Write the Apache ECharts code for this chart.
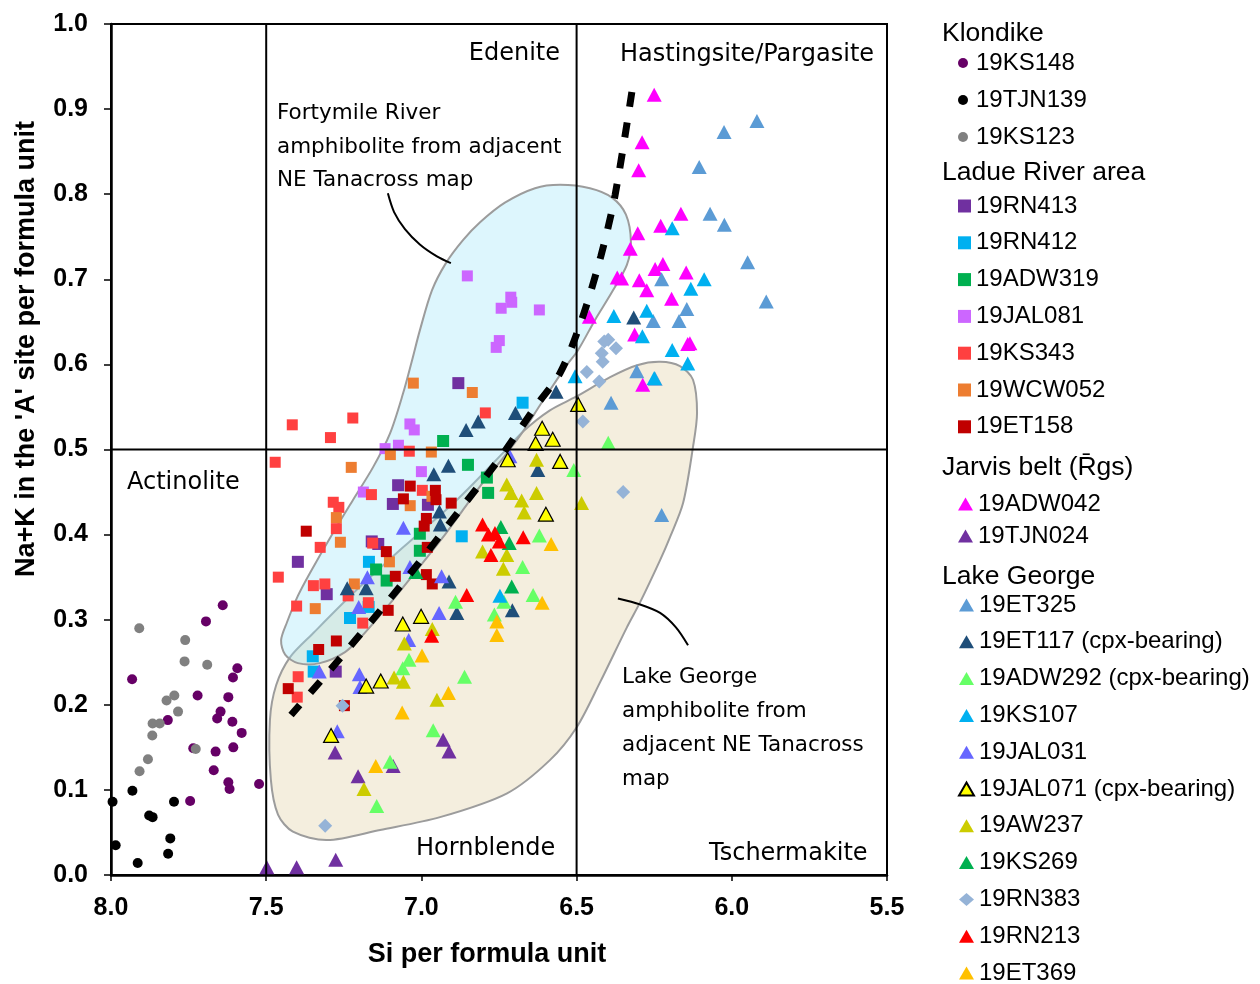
<!DOCTYPE html>
<html>
<head>
<meta charset="utf-8">
<script src="https://cdn.jsdelivr.net/npm/echarts@6/dist/echarts.min.js"></script>
<style>
  html, body { margin: 0; padding: 0; background: #fff; }
  #chart { width: 1260px; height: 984px; }
</style>
</head>
<body>
<div id="chart"></div>
<script>
// ---- Axis ticks ----
const X_TICKS = [8.0, 7.5, 7.0, 6.5, 6.0, 5.5];
const Y_TICKS = [0.0, 0.1, 0.2, 0.3, 0.4, 0.5, 0.6, 0.7, 0.8, 0.9, 1.0];

// ---- Klondike (Si apfu, Na+K in A site) ----
const KS148 = [[7.640,0.317],[7.694,0.298],[7.932,0.230],[7.593,0.243],[7.607,0.232],[7.721,0.211],[7.622,0.209],[7.647,0.192],[7.658,0.184],[7.817,0.182],[7.609,0.180],[7.579,0.167],[7.735,0.149],[7.663,0.145],[7.606,0.150],[7.669,0.123],[7.622,0.109],[7.618,0.101],[7.523,0.107],[7.745,0.087]];
const TJN139 = [[7.995,0.086],[7.931,0.099],[7.797,0.086],[7.877,0.070],[7.866,0.068],[7.985,0.035],[7.809,0.043],[7.816,0.025],[7.914,0.014]];
const KS123 = [[7.909,0.290],[7.761,0.276],[7.763,0.251],[7.690,0.247],[7.796,0.211],[7.821,0.205],[7.784,0.192],[7.866,0.178],[7.843,0.178],[7.867,0.164],[7.727,0.148],[7.881,0.136],[7.908,0.122]];

// ---- Ladue River area ----
const RN413 = [[6.881,0.578],[7.075,0.458],[7.092,0.436],[6.979,0.435],[7.160,0.392],[7.139,0.389],[7.398,0.368],[7.305,0.330],[7.276,0.239]];
const RN412 = [[6.674,0.555],[6.870,0.398],[7.169,0.368],[7.170,0.315],[7.230,0.302],[7.350,0.257],[7.347,0.239]];
const ADW319 = [[6.930,0.510],[6.850,0.482],[6.789,0.467],[6.785,0.449],[7.005,0.401],[7.005,0.381],[7.146,0.359],[7.112,0.346]];
const JAL081 = [[6.852,0.704],[6.712,0.679],[6.709,0.673],[6.743,0.666],[6.620,0.664],[6.749,0.628],[6.759,0.620],[7.037,0.530],[7.023,0.523],[7.117,0.501],[7.074,0.505],[7.000,0.474],[7.187,0.450]];
const KS343 = [[7.416,0.529],[7.221,0.537],[7.293,0.514],[6.794,0.543],[7.039,0.498],[7.471,0.485],[6.997,0.452],[7.161,0.447],[7.284,0.438],[7.266,0.432],[7.274,0.407],[7.157,0.390],[7.326,0.385],[7.461,0.350],[7.348,0.340],[7.311,0.342],[7.236,0.328],[7.402,0.316],[7.171,0.320],[7.189,0.296],[7.397,0.233],[7.400,0.209]];
const WCW052 = [[7.026,0.578],[6.836,0.567],[7.100,0.494],[6.968,0.497],[7.226,0.479],[6.966,0.445],[7.036,0.434],[7.274,0.420],[7.261,0.391],[7.103,0.368],[7.216,0.342],[7.342,0.313]];
const ET158 = [[7.036,0.457],[6.955,0.452],[6.953,0.441],[7.058,0.442],[6.904,0.437],[7.371,0.404],[6.984,0.419],[6.991,0.410],[7.113,0.380],[6.981,0.385],[7.084,0.351],[6.984,0.353],[6.965,0.342],[7.107,0.311],[7.274,0.275],[7.331,0.265],[7.429,0.219],[7.248,0.199]];

// ---- Jarvis belt ----
const ADW042 = [[6.250,0.917],[6.289,0.861],[6.300,0.828],[6.164,0.777],[6.229,0.763],[6.303,0.754],[6.327,0.736],[6.369,0.702],[6.355,0.701],[6.247,0.712],[6.222,0.718],[6.298,0.699],[6.274,0.687],[6.147,0.708],[6.194,0.677],[6.459,0.656],[6.313,0.635],[6.142,0.624],[6.135,0.625],[6.287,0.576]];
const TJN024 = [[7.498,0.009],[7.402,0.009],[7.276,0.018],[7.278,0.144],[7.204,0.116],[7.091,0.128],[6.930,0.159],[6.911,0.145]];

// ---- Lake George ----
const ET325 = [[5.919,0.886],[6.025,0.873],[6.105,0.832],[6.070,0.777],[6.024,0.764],[5.949,0.720],[5.889,0.674],[6.226,0.700],[6.145,0.665],[6.253,0.651],[6.170,0.651],[6.306,0.592],[6.247,0.583],[6.389,0.555],[6.226,0.423]];
const ET117 = [[6.316,0.655],[6.566,0.568],[6.697,0.543],[6.817,0.533],[6.856,0.523],[6.913,0.481],[6.960,0.471],[6.625,0.476],[6.942,0.427],[6.939,0.412],[7.239,0.337],[7.178,0.337],[6.911,0.345],[6.886,0.308],[6.707,0.311]];
const ADW292 = [[6.398,0.508],[6.509,0.476],[6.620,0.399],[6.674,0.362],[6.640,0.329],[6.890,0.321],[6.765,0.306],[6.734,0.321],[6.861,0.233],[7.040,0.253],[7.060,0.243],[6.962,0.170],[7.101,0.133],[7.144,0.081]];
const KS107 = [[6.192,0.760],[6.132,0.689],[6.089,0.700],[6.380,0.657],[6.274,0.663],[6.288,0.633],[6.192,0.617],[6.142,0.601],[6.505,0.586],[6.250,0.584],[6.747,0.328]];
const JAL031 = [[6.715,0.492],[7.058,0.408],[7.037,0.362],[6.935,0.351],[7.174,0.350],[7.202,0.315],[6.943,0.308],[7.041,0.276],[7.329,0.239],[7.200,0.236],[7.198,0.221],[7.271,0.169]];
const JAL071 = [[6.495,0.553],[6.611,0.525],[6.577,0.512],[6.632,0.507],[6.722,0.488],[6.553,0.486],[6.599,0.424],[7.060,0.295],[7.001,0.304],[7.131,0.228],[7.178,0.222],[7.291,0.164]];
const AW237 = [[6.629,0.488],[6.725,0.459],[6.711,0.449],[6.677,0.440],[6.629,0.449],[6.669,0.426],[6.484,0.437],[6.803,0.380],[6.725,0.376],[6.736,0.360],[6.965,0.289],[7.055,0.272],[7.088,0.232],[7.058,0.227],[6.950,0.206],[7.185,0.101]];
const KS269 = [[6.744,0.409],[6.717,0.390],[6.709,0.339],[7.018,0.356]];
const RN383 = [[6.398,0.629],[6.411,0.627],[6.373,0.619],[6.419,0.613],[6.416,0.603],[6.467,0.591],[6.427,0.580],[6.480,0.533],[6.350,0.450],[7.254,0.199],[7.310,0.058]];
const RN213 = [[6.803,0.412],[6.784,0.400],[6.763,0.402],[6.749,0.392],[6.672,0.397],[6.776,0.376],[6.854,0.329],[6.967,0.281]];
const ET369 = [[6.582,0.389],[6.611,0.320],[6.757,0.298],[6.757,0.282],[6.913,0.214],[6.998,0.258],[7.062,0.191],[7.147,0.128]];

// ---- Field outlines (Si, Na+K) ----
const FORTYMILE_FIELD = [[6.866,0.746],[6.811,0.767],[6.731,0.790],[6.634,0.807],[6.553,0.811],[6.457,0.807],[6.386,0.796],[6.341,0.776],[6.325,0.744],[6.338,0.717],[6.386,0.685],[6.441,0.652],[6.495,0.617],[6.534,0.598],[6.618,0.552],[6.673,0.521],[6.737,0.490],[6.802,0.461],[6.866,0.429],[6.924,0.400],[7.059,0.338],[7.124,0.309],[7.191,0.281],[7.246,0.262],[7.327,0.249],[7.398,0.249],[7.439,0.259],[7.452,0.276],[7.433,0.297],[7.398,0.328],[7.359,0.355],[7.285,0.402],[7.220,0.441],[7.156,0.479],[7.101,0.519],[7.059,0.566],[7.030,0.605],[7.005,0.640],[6.966,0.687],[6.921,0.719]];
const LAKE_GEORGE_FIELD = [[6.502,0.562],[6.392,0.585],[6.305,0.599],[6.231,0.603],[6.167,0.598],[6.125,0.582],[6.112,0.543],[6.125,0.503],[6.157,0.437],[6.199,0.397],[6.231,0.370],[6.296,0.320],[6.338,0.291],[6.425,0.226],[6.499,0.174],[6.586,0.135],[6.724,0.096],[6.940,0.068],[7.133,0.053],[7.304,0.041],[7.414,0.051],[7.462,0.071],[7.485,0.112],[7.488,0.182],[7.468,0.223],[7.423,0.256],[7.349,0.284],[7.220,0.331],[7.059,0.385],[6.885,0.441],[6.737,0.496],[6.673,0.521],[6.586,0.546]];

// ---- Edenite / pargasite boundary (dashed) and label leaders ----
const BOUNDARY = [[6.322,0.920],[6.376,0.799],[6.422,0.727],[6.484,0.652],[6.553,0.590],[6.629,0.552],[6.747,0.490],[6.876,0.429],[7.069,0.339],[7.268,0.252],[7.420,0.188]];
const FORTYMILE_LEADER = [[7.108,0.801],[7.088,0.779],[7.053,0.759],[7.005,0.741],[6.950,0.727],[6.905,0.719]];
const LAKE_GEORGE_LEADER = [[6.367,0.325],[6.296,0.318],[6.231,0.308],[6.180,0.291],[6.141,0.270]];

// ---- Legend groups ----
const GROUP_KLONDIKE = ['19KS148', '19TJN139', '19KS123'];
const GROUP_LADUE = ['19RN413', '19RN412', '19ADW319', '19JAL081', '19KS343', '19WCW052', '19ET158'];
const GROUP_JARVIS = ['19ADW042', '19TJN024'];
const GROUP_LAKE = ['19ET325', '19ET117 (cpx-bearing)', '19ADW292 (cpx-bearing)', '19KS107', '19JAL031', '19JAL071 (cpx-bearing)', '19AW237', '19KS269', '19RN383', '19RN213', '19ET369'];

const TRI = [15, 14];
function pts(name, data, symbol, size, color, border) {
  return {
    name: name, type: 'scatter', data: data, symbol: symbol, symbolSize: size,
    itemStyle: border ? { color: color, borderColor: border, borderWidth: 1.2, opacity: 1 } : { color: color, opacity: 1 },
    emphasis: { disabled: true }
  };
}
function field(points, fill) {
  return {
    type: 'custom', silent: true, data: [[7, 0.5]],
    renderItem: function (params, api) {
      const p = points.map(function (d) { return api.coord(d); });
      return { type: 'polygon', shape: { points: p, smooth: 0.3 },
               style: { fill: fill, stroke: '#9c9c9c', lineWidth: 2 } };
    }
  };
}
function rule(data, width, type) {
  return { type: 'line', silent: true, data: data, symbol: 'none', smooth: 0.3,
           lineStyle: { color: '#000', width: width, type: type || 'solid', cap: 'butt' } };
}

const series = [
  field(LAKE_GEORGE_FIELD, 'rgba(224,206,161,0.35)'),
  field(FORTYMILE_FIELD, 'rgba(158,229,249,0.35)'),
  rule([[7.5, 0], [7.5, 1]], 2),
  rule([[6.5, 0], [6.5, 1]], 2),
  rule([[8.0, 0.5], [5.5, 0.5]], 2),
  pts('19KS148', KS148, 'circle', 10, '#660066'),
  pts('19TJN139', TJN139, 'circle', 10, '#000000'),
  pts('19KS123', KS123, 'circle', 10, '#808080'),
  pts('19RN413', RN413, 'rect', 12, '#7030A0'),
  pts('19RN412', RN412, 'rect', 12, '#00B0F0'),
  pts('19ADW319', ADW319, 'rect', 12, '#00B050'),
  pts('19JAL081', JAL081, 'rect', 11, '#CC66FF'),
  pts('19KS343', KS343, 'rect', 11, '#FF4040'),
  pts('19WCW052', WCW052, 'rect', 11, '#ED7D31'),
  pts('19ET158', ET158, 'rect', 11, '#C00000'),
  pts('19ADW042', ADW042, 'triangle', TRI, '#FF00FF'),
  pts('19TJN024', TJN024, 'triangle', TRI, '#7030A0'),
  pts('19ET325', ET325, 'triangle', TRI, '#5B9BD5'),
  pts('19ET117 (cpx-bearing)', ET117, 'triangle', TRI, '#1F4E79'),
  pts('19ADW292 (cpx-bearing)', ADW292, 'triangle', TRI, '#66FF66'),
  pts('19KS107', KS107, 'triangle', TRI, '#00B0F0'),
  pts('19JAL031', JAL031, 'triangle', TRI, '#6666FF'),
  pts('19JAL071 (cpx-bearing)', JAL071, 'triangle', TRI, '#FFFF00', '#000000'),
  pts('19AW237', AW237, 'triangle', TRI, '#CCCC00'),
  pts('19KS269', KS269, 'triangle', TRI, '#00B050'),
  pts('19RN383', RN383, 'diamond', 14, '#95B3D7'),
  pts('19RN213', RN213, 'triangle', TRI, '#FF0000'),
  pts('19ET369', ET369, 'triangle', TRI, '#FFC000'),
  rule(BOUNDARY, 7, [15, 16]),
  rule(FORTYMILE_LEADER, 2),
  rule(LAKE_GEORGE_LEADER, 2)
];

const LEG_TEXT = { fontSize: 24, lineHeight: 24, fontFamily: 'Liberation Sans, Arial, sans-serif', color: '#000' };
function legendGroup(names, top, w, h, gap, pad) {
  return {
    data: names, orient: 'vertical', left: 958, top: top, padding: 0,
    width: 300, height: names.length * 40,
    itemWidth: w, itemHeight: h, itemGap: gap, selectedMode: false,
    textStyle: Object.assign({ padding: [0, 0, 0, pad || 0] }, LEG_TEXT)
  };
}

const REGION_FONT = '24px "DejaVu Sans", sans-serif';
const NOTE_FONT = '21.5px "DejaVu Sans", sans-serif';
const HEAD_FONT = '26.5px "Liberation Sans", Arial, sans-serif';
function label(text, x, y, font, align) {
  return { type: 'text', x: x, y: y, silent: true,
           style: { text: text, font: font, fill: '#000', align: align || 'left', verticalAlign: 'middle' } };
}

const chart = echarts.init(document.getElementById('chart'), null, { renderer: 'canvas' });
chart.setOption({
  animation: false,
  backgroundColor: '#fff',
  grid: { left: 111, right: 373, top: 24, bottom: 109, show: true, borderColor: '#000', borderWidth: 2, backgroundColor: 'transparent' },
  xAxis: {
    type: 'value', inverse: true, min: X_TICKS[X_TICKS.length - 1], max: X_TICKS[0], interval: 0.5,
    axisLine: { show: true, onZero: false, lineStyle: { color: '#000', width: 2.5 } },
    axisTick: { show: true, length: 6, lineStyle: { color: '#000', width: 1.5 } },
    splitLine: { show: false },
    axisLabel: { margin: 21, color: '#000', fontWeight: 'bold', fontSize: 25, fontFamily: 'Liberation Sans, Arial, sans-serif',
                 formatter: function (v) { return v.toFixed(1); } }
  },
  yAxis: {
    type: 'value', min: Y_TICKS[0], max: Y_TICKS[Y_TICKS.length - 1], interval: 0.1,
    axisLine: { show: true, onZero: false, lineStyle: { color: '#000', width: 2.5 } },
    axisTick: { show: true, length: 7, lineStyle: { color: '#000', width: 1.5 } },
    splitLine: { show: false },
    axisLabel: { margin: 23, color: '#000', fontWeight: 'bold', fontSize: 25, fontFamily: 'Liberation Sans, Arial, sans-serif',
                 formatter: function (v) { return v.toFixed(1); } }
  },
  legend: [
    legendGroup(GROUP_KLONDIKE, 51, 10, 10, 13, 3),
    legendGroup(GROUP_LADUE, 194, 13, 13, 12.8, 0),
    legendGroup(GROUP_JARVIS, 492, 15, 13, 8, 0),
    legendGroup(GROUP_LAKE, 593, 15, 13, 12.8, 0)
  ],
  graphic: [
    label('Edenite', 560, 54, REGION_FONT, 'right'),
    label('Hastingsite/Pargasite', 620, 55, REGION_FONT),
    label('Actinolite', 127, 483, REGION_FONT),
    label('Hornblende', 416, 849, REGION_FONT),
    label('Tschermakite', 709, 854, REGION_FONT),
    label('Fortymile River', 277, 113, NOTE_FONT),
    label('amphibolite from adjacent', 277, 147, NOTE_FONT),
    label('NE Tanacross map', 277, 180, NOTE_FONT),
    label('Lake George', 622, 677, NOTE_FONT),
    label('amphibolite from', 622, 711, NOTE_FONT),
    label('adjacent NE Tanacross', 622, 745, NOTE_FONT),
    label('map', 622, 779, NOTE_FONT),
    label('Klondike', 942, 34, HEAD_FONT),
    label('Ladue River area', 942, 173, HEAD_FONT),
    label('Jarvis belt (R\u0304gs)', 942, 468, HEAD_FONT),
    label('Lake George', 942, 577, HEAD_FONT),
    { type: 'text', x: 487, y: 955, silent: true,
      style: { text: 'Si per formula unit', font: 'bold 27px "Liberation Sans", Arial, sans-serif', fill: '#000', align: 'center', verticalAlign: 'middle' } },
    { type: 'text', x: 27, y: 349, rotation: Math.PI / 2, silent: true,
      style: { text: "Na+K in the 'A' site per formula unit", font: 'bold 27px "Liberation Sans", Arial, sans-serif', fill: '#000', align: 'center', verticalAlign: 'middle' } }
  ],
  series: series
});
</script>
</body>
</html>
